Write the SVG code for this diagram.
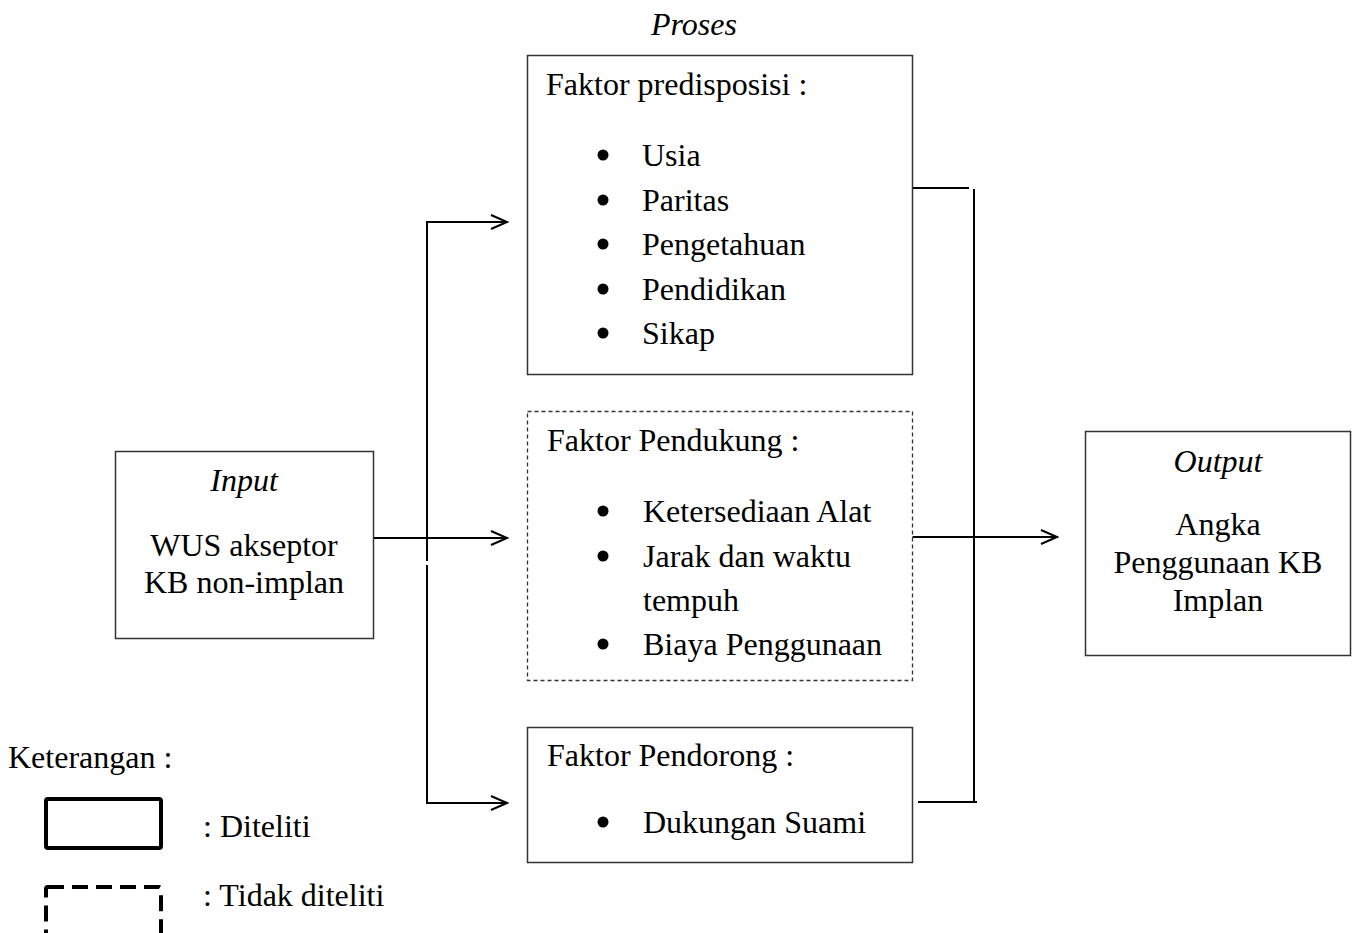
<svg xmlns="http://www.w3.org/2000/svg" width="1354" height="933" viewBox="0 0 1354 933">
<style>
text{font-family:"Liberation Serif","Times New Roman",serif;font-size:32px;fill:#000}
.it{font-style:italic}
.mid{text-anchor:middle}
.box{fill:#fff;stroke:#333;stroke-width:1.5}
.dash{fill:#fff;stroke:#333;stroke-width:1.3;stroke-dasharray:4 3}
.con{fill:none;stroke:#000;stroke-width:2}
</style>
<defs>
<marker id="arr" markerWidth="20" markerHeight="16" refX="18" refY="8" orient="auto" markerUnits="userSpaceOnUse">
<path d="M2,1 L18,8 L2,15" fill="none" stroke="#000" stroke-width="2"/>
</marker>
</defs>
<rect width="1354" height="933" fill="#fff"/>
<text x="694" y="35" class="it mid">Proses</text>
<g id="connectors">
<line class="con" x1="374" y1="538" x2="507" y2="538" marker-end="url(#arr)"/>
<line class="con" x1="427" y1="222" x2="427" y2="561"/>
<line class="con" x1="427" y1="565" x2="427" y2="803"/>
<line class="con" x1="426" y1="222" x2="507" y2="222" marker-end="url(#arr)"/>
<line class="con" x1="426" y1="803" x2="507" y2="803" marker-end="url(#arr)"/>
<line class="con" x1="912" y1="188" x2="969" y2="188"/>
<line class="con" x1="974" y1="189" x2="974" y2="803"/>
<line class="con" x1="918" y1="802" x2="977" y2="802"/>
<line class="con" x1="912" y1="537" x2="1057" y2="537" marker-end="url(#arr)"/>
</g>
<g id="input">
<rect class="box" x="115.5" y="451.5" width="258" height="187"/>
<text x="244" y="491" class="it mid">Input</text>
<text x="244" y="556" class="mid">WUS akseptor</text>
<text x="244" y="593" class="mid">KB non-implan</text>
</g>
<g id="predisposisi">
<rect class="box" x="527.5" y="55.5" width="385" height="319"/>
<text x="546" y="95">Faktor predisposisi :</text>
<circle cx="603" cy="155" r="5.5"/><text x="642" y="166">Usia</text>
<circle cx="603" cy="200" r="5.5"/><text x="642" y="211">Paritas</text>
<circle cx="603" cy="244" r="5.5"/><text x="642" y="255">Pengetahuan</text>
<circle cx="603" cy="289" r="5.5"/><text x="642" y="300">Pendidikan</text>
<circle cx="603" cy="333" r="5.5"/><text x="642" y="344">Sikap</text>
</g>
<g id="pendukung">
<rect class="dash" x="527.5" y="411.5" width="385" height="269"/>
<text x="547" y="451">Faktor Pendukung :</text>
<circle cx="603" cy="511" r="5.5"/><text x="643" y="522">Ketersediaan Alat</text>
<circle cx="603" cy="556" r="5.5"/><text x="643" y="567">Jarak dan waktu</text>
<text x="643" y="611">tempuh</text>
<circle cx="603" cy="644" r="5.5"/><text x="643" y="655">Biaya Penggunaan</text>
</g>
<g id="pendorong">
<rect class="box" x="527.5" y="727.5" width="385" height="135"/>
<text x="547" y="766">Faktor Pendorong :</text>
<circle cx="603" cy="822" r="5.5"/><text x="643" y="833">Dukungan Suami</text>
</g>
<g id="output">
<rect class="box" x="1085.5" y="431.5" width="265" height="224"/>
<text x="1218" y="472" class="it mid">Output</text>
<text x="1218" y="535" class="mid">Angka</text>
<text x="1218" y="573" class="mid">Penggunaan KB</text>
<text x="1218" y="611" class="mid">Implan</text>
</g>
<g id="legend">
<text x="8" y="768">Keterangan :</text>
<rect x="46" y="799" width="115" height="49" rx="2" fill="none" stroke="#000" stroke-width="4"/>
<text x="203" y="837">: Diteliti</text>
<rect x="46" y="887" width="115" height="49" rx="2" fill="none" stroke="#000" stroke-width="4" stroke-dasharray="16 8"/>
<text x="203" y="906">: Tidak diteliti</text>
</g>
</svg>
